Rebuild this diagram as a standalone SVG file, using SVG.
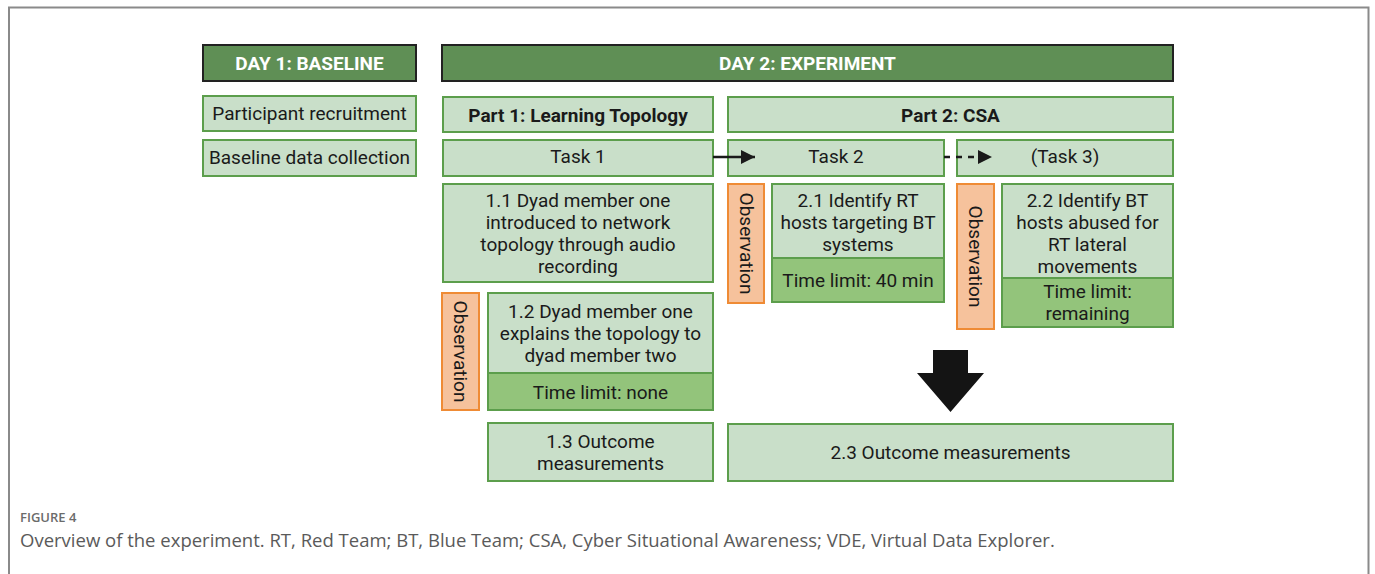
<svg xmlns="http://www.w3.org/2000/svg" width="1375" height="574" viewBox="0 0 1375 574">
  <style>
    text { font-family: Roboto, "Liberation Sans", sans-serif; fill: #1a1a1a; text-anchor: middle; }
    .hdr rect { fill: #5f8f55; stroke: #222; stroke-width: 2; }
    .hdr text { fill: #ffffff; font-weight: bold; font-size: 19px; }
    .box { fill: #c9dfc9; stroke: #5c9e4c; stroke-width: 2; }
    .lim { fill: #93c47b; stroke: #5c9e4c; stroke-width: 2; }
    .obs { fill: #f6c29c; stroke: #ef8b35; stroke-width: 2; }
    .t { font-size: 19px; }
    .b { font-size: 19px; font-weight: bold; }
    .cap1 { font-family: "Open Sans", "Liberation Sans", sans-serif; font-size: 13px; font-weight: 600; fill: #6b6b6b; text-anchor: start; }
    .cap2 { font-family: "Open Sans", "Liberation Sans", sans-serif; font-size: 18.5px; fill: #5a5a5a; text-anchor: start; }
  </style>
  <defs>
    <marker id="tip" viewBox="0 0 10 10" refX="10" refY="5" markerWidth="14" markerHeight="14" markerUnits="userSpaceOnUse" orient="auto">
      <path d="M0,0 L10,5 L0,10 z" fill="#1a1a1a"/>
    </marker>
  </defs>

  <!-- figure frame -->
  <path d="M9,574 V7.5 H1368.5 V574" fill="none" stroke="#8a8a8a" stroke-width="2"/>

  <!-- day headers -->
  <g id="day1" class="hdr">
    <rect x="203" y="45" width="213" height="36"/>
    <text x="309.5" y="69.5">DAY 1: BASELINE</text>
  </g>
  <g id="day2" class="hdr">
    <rect x="442" y="45" width="731" height="36"/>
    <text x="807.5" y="69.5">DAY 2: EXPERIMENT</text>
  </g>

  <!-- day 1 -->
  <g id="recruit">
    <rect class="box" x="203" y="96" width="213" height="35"/>
    <text class="t" x="309.5" y="120">Participant recruitment</text>
  </g>
  <g id="baseline">
    <rect class="box" x="203" y="140" width="213" height="36"/>
    <text class="t" x="309.5" y="164">Baseline data collection</text>
  </g>

  <!-- day 2, part 1 -->
  <g id="part1">
    <rect class="box" x="443" y="97" width="270" height="35"/>
    <text class="b" x="578" y="121.5">Part 1: Learning Topology</text>
  </g>
  <g id="task1">
    <rect class="box" x="443" y="140" width="270" height="36"/>
    <text class="t" x="578" y="162.5">Task 1</text>
  </g>
  <g id="step11">
    <rect class="box" x="443" y="184" width="270" height="98"/>
    <text class="t" x="578" y="206.5">1.1 Dyad member one</text>
    <text class="t" x="578" y="228.5">introduced to network</text>
    <text class="t" x="578" y="250.5">topology through audio</text>
    <text class="t" x="578" y="272.5">recording</text>
  </g>
  <g id="obs1">
    <rect class="obs" x="442" y="293" width="37" height="117"/>
    <text class="t" transform="translate(454,351.5) rotate(90)">Observation</text>
  </g>
  <g id="step12">
    <rect class="box" x="488" y="293" width="225" height="80"/>
    <rect class="lim" x="488" y="373" width="225" height="37"/>
    <text class="t" x="600.5" y="317.5">1.2 Dyad member one</text>
    <text class="t" x="600.5" y="339.5">explains the topology to</text>
    <text class="t" x="600.5" y="361.5">dyad member two</text>
    <text class="t" x="600.5" y="398.5">Time limit: none</text>
  </g>
  <g id="step13">
    <rect class="box" x="488" y="423" width="225" height="58"/>
    <text class="t" x="600.5" y="447.5">1.3 Outcome</text>
    <text class="t" x="600.5" y="469.5">measurements</text>
  </g>

  <!-- day 2, part 2 -->
  <g id="part2">
    <rect class="box" x="728" y="97" width="445" height="35"/>
    <text class="b" x="950.5" y="121.5">Part 2: CSA</text>
  </g>
  <g id="task2">
    <rect class="box" x="728" y="140" width="216" height="36"/>
    <text class="t" x="836" y="162.5">Task 2</text>
  </g>
  <g id="task3">
    <rect class="box" x="957" y="140" width="216" height="36"/>
    <text class="t" x="1065" y="162.5">(Task 3)</text>
  </g>
  <g id="obs21">
    <rect class="obs" x="728" y="184" width="36" height="119"/>
    <text class="t" transform="translate(740,243.5) rotate(90)">Observation</text>
  </g>
  <g id="step21">
    <rect class="box" x="772" y="184" width="172" height="74"/>
    <rect class="lim" x="772" y="258" width="172" height="44"/>
    <text class="t" x="858" y="206.5">2.1 Identify RT</text>
    <text class="t" x="858" y="228.5">hosts targeting BT</text>
    <text class="t" x="858" y="250.5">systems</text>
    <text class="t" x="858" y="286.5">Time limit: 40 min</text>
  </g>
  <g id="obs22">
    <rect class="obs" x="957" y="184" width="37" height="145"/>
    <text class="t" transform="translate(969,256.5) rotate(90)">Observation</text>
  </g>
  <g id="step22">
    <rect class="box" x="1002" y="184" width="171" height="94"/>
    <rect class="lim" x="1002" y="278" width="171" height="49"/>
    <text class="t" x="1087.5" y="206.5">2.2 Identify BT</text>
    <text class="t" x="1087.5" y="228.5">hosts abused for</text>
    <text class="t" x="1087.5" y="250.5">RT lateral</text>
    <text class="t" x="1087.5" y="272.5">movements</text>
    <text class="t" x="1087.5" y="297.5">Time limit:</text>
    <text class="t" x="1087.5" y="319.5">remaining</text>
  </g>
  <g id="step23">
    <rect class="box" x="728" y="424" width="445" height="57"/>
    <text class="t" x="950.5" y="458.5">2.3 Outcome measurements</text>
  </g>

  <!-- connectors -->
  <g id="connectors">
    <line x1="713" y1="157" x2="755" y2="157" stroke="#1a1a1a" stroke-width="2.5" marker-end="url(#tip)"/>
    <line x1="944" y1="157" x2="992" y2="157" stroke="#1a1a1a" stroke-width="2.5" stroke-dasharray="6,6" marker-end="url(#tip)"/>
    <path d="M933,350 H968 V373 H984 L950.5,412 L917,373 H933 Z" fill="#141414"/>
  </g>

  <!-- caption -->
  <text class="cap1" x="20" y="522">FIGURE 4</text>
  <text class="cap2" x="20" y="547">Overview of the experiment. RT, Red Team; BT, Blue Team; CSA, Cyber Situational Awareness; VDE, Virtual Data Explorer.</text>
</svg>
